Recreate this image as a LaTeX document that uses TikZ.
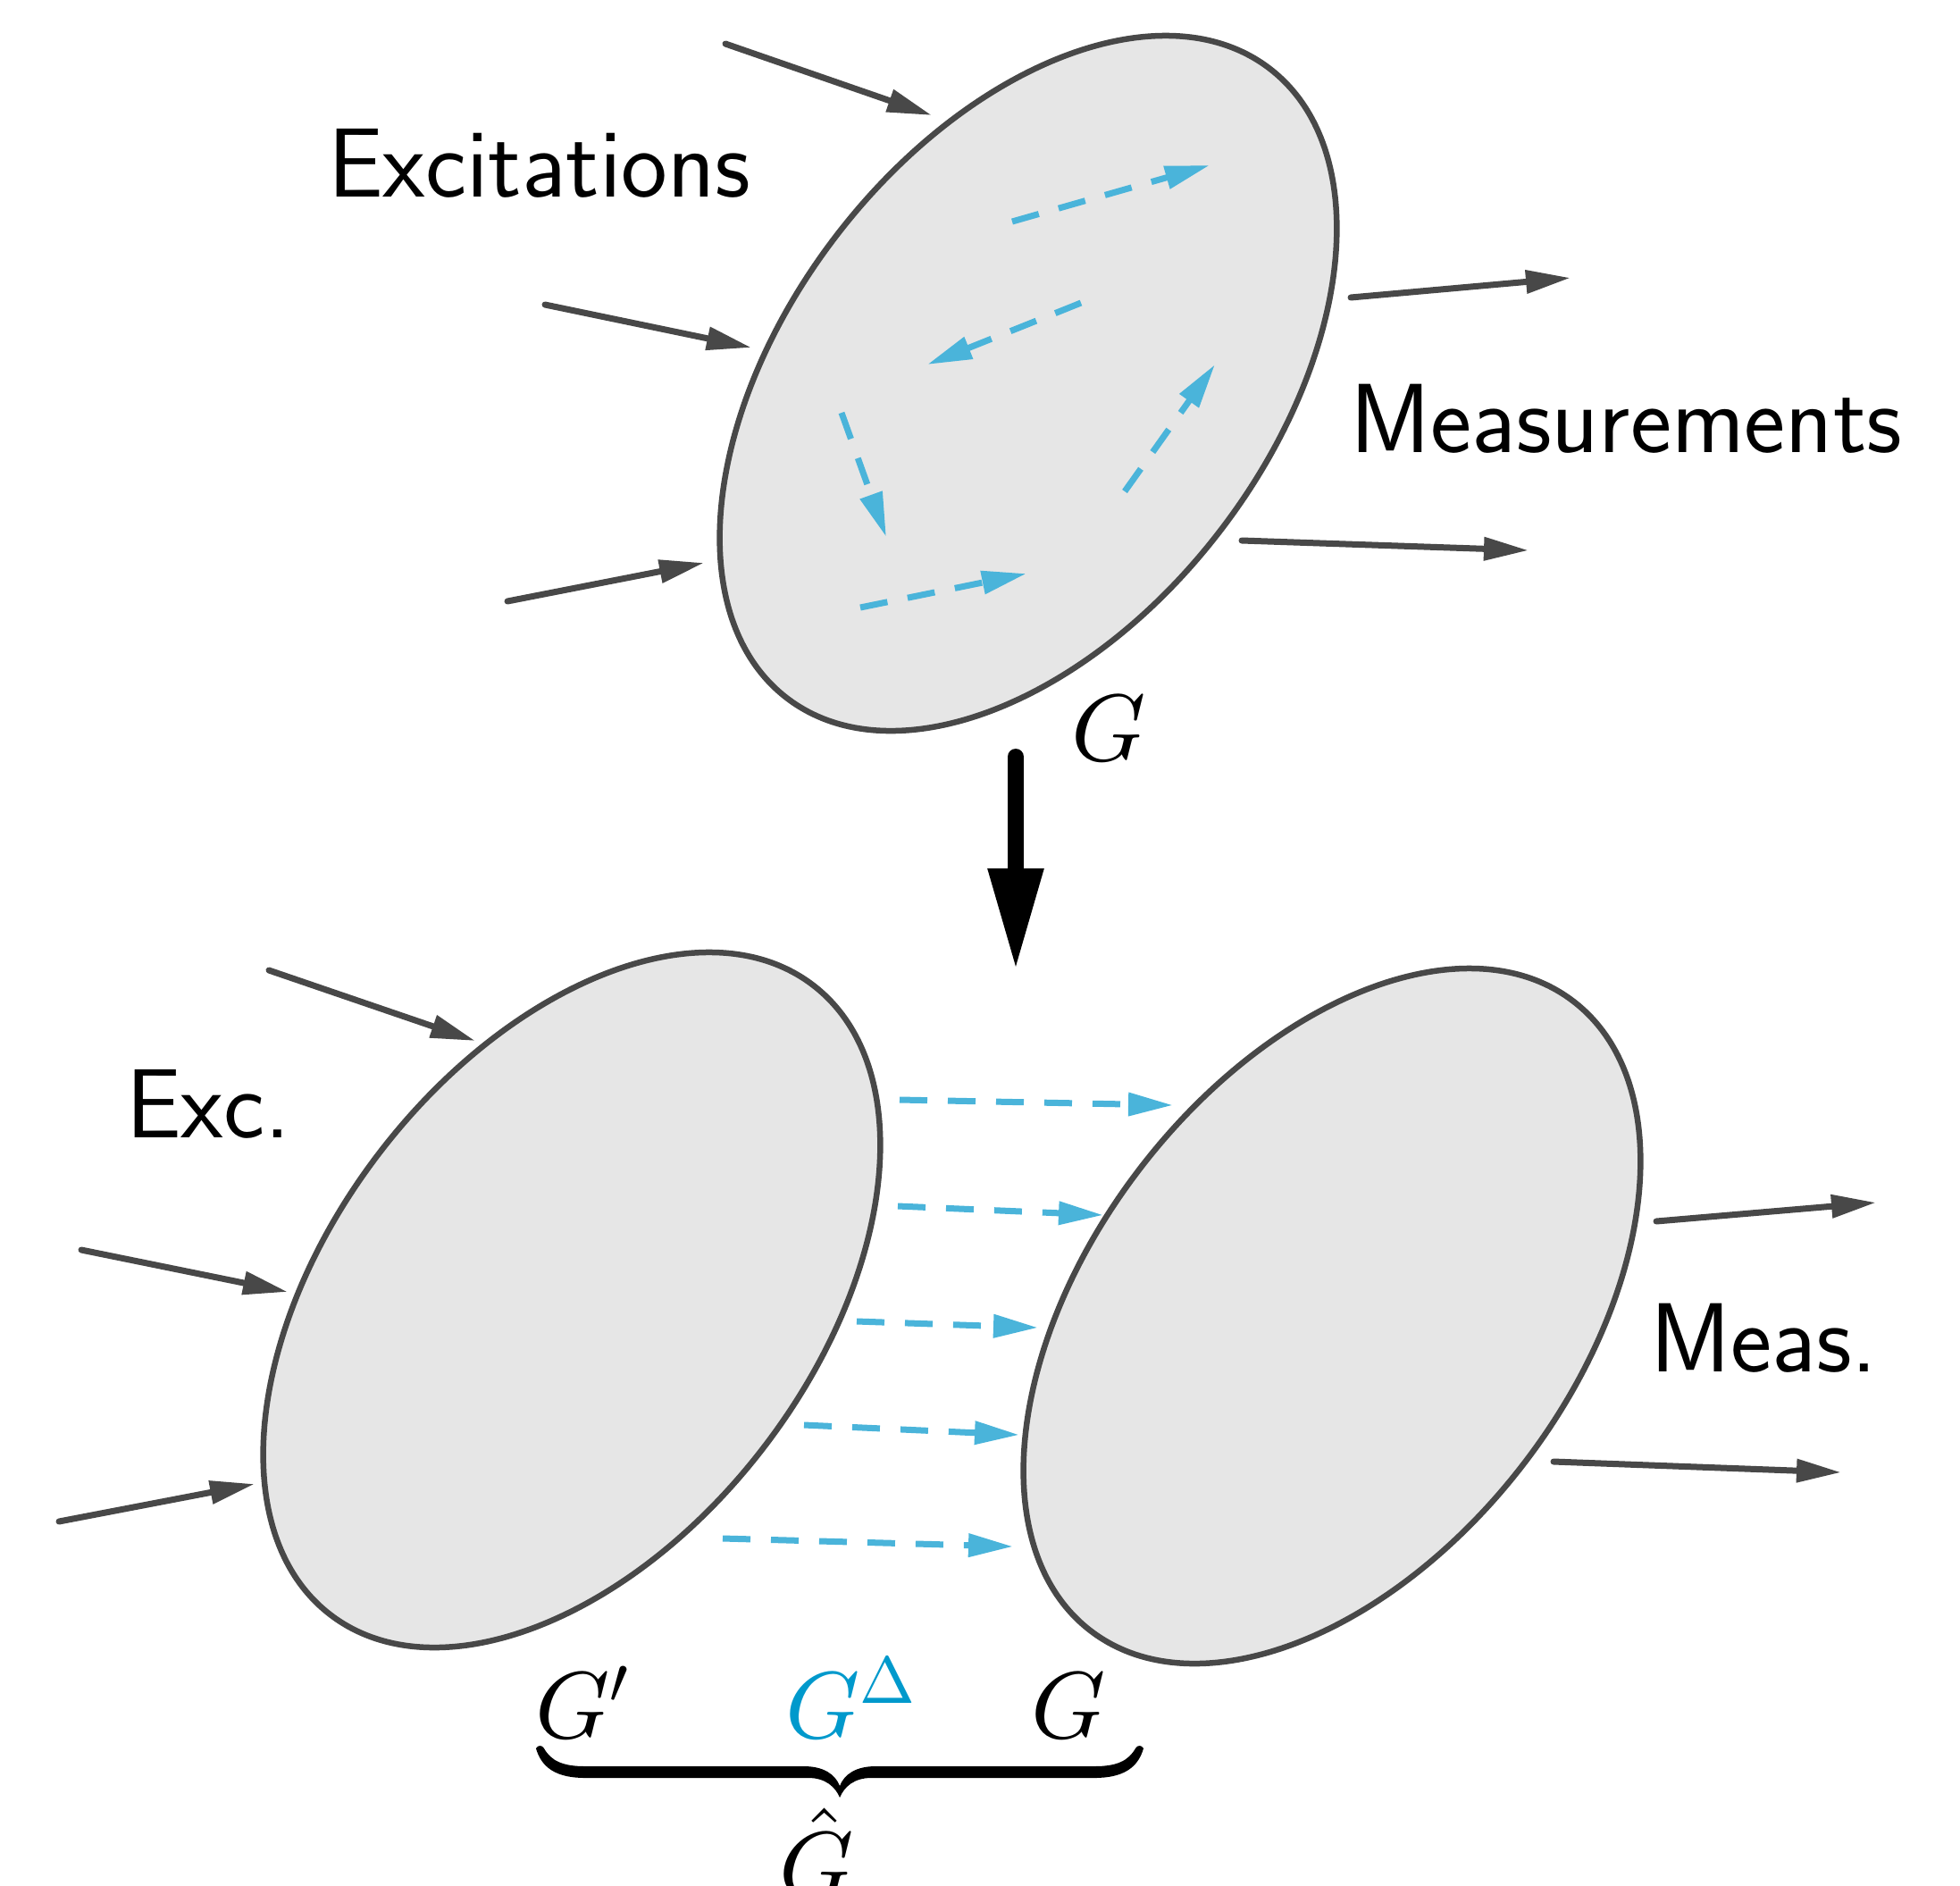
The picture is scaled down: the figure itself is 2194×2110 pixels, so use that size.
\documentclass[tikz,border=0pt]{standalone}
\usetikzlibrary{arrows.meta}
\DeclareFontShape{OML}{cmm}{m}{it}{<->cmmi10}{}
\DeclareFontShape{OMS}{cmsy}{m}{n}{<->cmsy10}{}
\DeclareFontShape{OT1}{cmr}{m}{n}{<->cmr10}{}
\DeclareFontShape{OMX}{cmex}{m}{n}{<->cmex10}{}
\definecolor{edgegray}{RGB}{72,72,72}
\definecolor{fillgray}{RGB}{230,230,230}
\definecolor{flowblue}{RGB}{74,180,218}
\definecolor{deltablue}{RGB}{0,153,204}
\tikzset{
  blob/.style={draw=edgegray, fill=fillgray, line width=6.5pt},
  ioarrow/.style={draw=edgegray, line width=7pt, line cap=round, -{Triangle[length=50pt,width=25pt]}},
  flowarrow/.style={draw=flowblue, line width=7pt, dash pattern=on 31pt off 23pt, -{Triangle[length=50pt,width=25pt]}},
  bigarrow/.style={draw=black, line width=18pt, line cap=round, -{Triangle[length=114pt,width=58pt]}},
  txt/.style={inner sep=0pt, anchor=base west, font=\sffamily\fontsize{110}{125}\selectfont},
  mlab/.style={inner sep=0pt, anchor=base west, font=\fontsize{106}{120}\selectfont},
}
\begin{document}
\begin{tikzpicture}[x=1pt,y=-1pt]
\useasboundingbox (0,0) rectangle (2194,2110);
% ellipses
\coordinate (c1) at (1151,429);
\coordinate (c2) at (640,1455);
\coordinate (c3) at (1491,1473);
\draw[blob, rotate around={52.5:(c1)}] (c1) ellipse [x radius=444, y radius=271];
\draw[blob, rotate around={52.5:(c2)}] (c2) ellipse [x radius=444, y radius=271];
\draw[blob, rotate around={52.5:(c3)}] (c3) ellipse [x radius=444, y radius=271];
% top excitation arrows
\coordinate (e1s) at (812,49);   \coordinate (e1t) at (1043,129);
\coordinate (e2s) at (610,341);  \coordinate (e2t) at (841,389);
\coordinate (e3s) at (568,673);  \coordinate (e3t) at (788,630);
\draw[ioarrow] (e1s) -- (e1t);
\draw[ioarrow] (e2s) -- (e2t);
\draw[ioarrow] (e3s) -- (e3t);
% top measurement arrows
\coordinate (m1s) at (1512,333); \coordinate (m1t) at (1758,311);
\coordinate (m2s) at (1390,605); \coordinate (m2t) at (1711,616);
\draw[ioarrow] (m1s) -- (m1t);
\draw[ioarrow] (m2s) -- (m2t);
% internal flows
\coordinate (fa1) at (1133,248); \coordinate (fa2) at (1354,185);
\coordinate (fb1) at (1210,339); \coordinate (fb2) at (1038,408);
\coordinate (fc1) at (942,462);  \coordinate (fc2) at (992,601);
\coordinate (fd1) at (963,680);  \coordinate (fd2) at (1149,642);
\coordinate (fe1) at (1259,550); \coordinate (fe2) at (1360,408);
\draw[flowarrow] (fa1) -- (fa2);
\draw[flowarrow] (fb1) -- (fb2);
\draw[flowarrow] (fc1) -- (fc2);
\draw[flowarrow] (fd1) -- (fd2);
\draw[flowarrow] (fe1) -- (fe2);
% labels top
\node[txt] (lexc) at (367,220) {Excitations};
\node[txt] (lmeas) at (1511,506) {Measurements};
\node[mlab] (lg1) at (1199,851) {$G$};
% big arrow
\coordinate (ba1) at (1137,847);
\coordinate (ba2) at (1137,1086);
\draw[bigarrow] (ba1) -- (ba2);
% bottom excitation arrows
\coordinate (b1s) at (301,1086);  \coordinate (b1t) at (532,1165);
\coordinate (b2s) at (91,1399);   \coordinate (b2t) at (322,1446);
\coordinate (b3s) at (66,1703);   \coordinate (b3t) at (285,1661);
\draw[ioarrow] (b1s) -- (b1t);
\draw[ioarrow] (b2s) -- (b2t);
\draw[ioarrow] (b3s) -- (b3t);
% bottom measurement arrows
\coordinate (n1s) at (1854,1367); \coordinate (n1t) at (2100,1346);
\coordinate (n2s) at (1739,1636); \coordinate (n2t) at (2061,1648);
\draw[ioarrow] (n1s) -- (n1t);
\draw[ioarrow] (n2s) -- (n2t);
% flows between
\coordinate (g1s) at (1007,1231); \coordinate (g1t) at (1313,1237);
\coordinate (g2s) at (1005,1350); \coordinate (g2t) at (1235,1360);
\coordinate (g3s) at (959,1479);  \coordinate (g3t) at (1162,1486);
\coordinate (g4s) at (900,1595);  \coordinate (g4t) at (1141,1606);
\coordinate (g5s) at (809,1722);  \coordinate (g5t) at (1134,1731);
\draw[flowarrow] (g1s) -- (g1t);
\draw[flowarrow] (g2s) -- (g2t);
\draw[flowarrow] (g3s) -- (g3t);
\draw[flowarrow] (g4s) -- (g4t);
\draw[flowarrow] (g5s) -- (g5t);
% labels bottom
\node[txt] (lexc2) at (141,1273) {Exc.};
\node[txt] (lmeas2) at (1847,1535) {Meas.};
\node[mlab] (lgp) at (599,1945) {$G'$};
\node[mlab] (lgd) at (879,1945) {\color{deltablue}$G^\Delta$};
\node[mlab] (lg2) at (1154,1945) {$G$};
\node[mlab] (lgh) at (872,2124) {$\hat{G}$};
% brace
\fill (600,1957) .. controls (606,1978) and (622,1990) .. (655,1990) -- (905,1990)
  .. controls (924,1990) and (935,2000) .. (940,2012)
  .. controls (945,2000) and (956,1990) .. (975,1990) -- (1225,1990)
  .. controls (1258,1990) and (1274,1978) .. (1280,1957)
  .. controls (1278,1953) and (1273,1953) .. (1271,1957)
  .. controls (1263,1971) and (1250,1977) .. (1225,1977) -- (980,1977)
  .. controls (958,1977) and (945,1986) .. (940,1999)
  .. controls (935,1986) and (922,1977) .. (900,1977) -- (655,1977)
  .. controls (630,1977) and (617,1971) .. (609,1957)
  .. controls (607,1953) and (602,1953) .. (600,1957) -- cycle;
\end{tikzpicture}
\end{document}
